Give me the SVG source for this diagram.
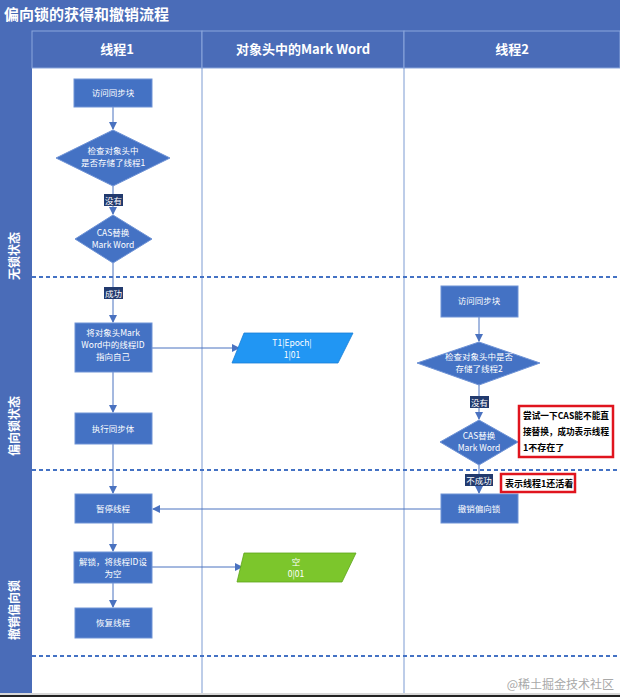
<svg xmlns="http://www.w3.org/2000/svg" width="620" height="697" viewBox="0 0 620 697">
<defs>
<style>
.t{font-family:"Noto Sans CJK SC","Liberation Sans",sans-serif}
.nodeText{font-size:8.5px;fill:#fff;text-anchor:middle}
.hdr{font-size:13px;font-weight:bold;fill:#fff;text-anchor:middle}
.lane{font-size:12px;font-weight:bold;fill:#fff;text-anchor:middle}
.box{fill:#4472c4;stroke:#6f93d6;stroke-width:1}
.conn{stroke:#4a72c0;stroke-width:1;fill:none}
.dash{stroke:#4472c4;stroke-width:2.2;stroke-dasharray:4 3;fill:none}
.lbl{fill:#223a6e}
.lblText{font-size:8.5px;fill:#fff;text-anchor:middle}
.note{fill:#fff;stroke:#e0141e;stroke-width:2.5}
.noteText{font-size:9px;font-weight:bold;fill:#000}
</style>
<marker id="arr" markerWidth="8" markerHeight="8" refX="7" refY="4" orient="auto" markerUnits="userSpaceOnUse">
<path d="M0,0 L8,4 L0,8 z" fill="#4a72c0"/>
</marker>
</defs>

<!-- background frame -->
<rect x="0" y="0" width="620" height="697" fill="#4a6cb8"/>
<rect x="32" y="68" width="588" height="625" fill="#fff"/>
<rect x="0" y="693" width="620" height="2" fill="#d8d8d8"/>
<rect x="0" y="695" width="620" height="2" fill="#222"/>

<text class="t" x="4" y="20" font-size="15" font-weight="bold" fill="#fff">偏向锁的获得和撤销流程</text>

<!-- header row -->
<g id="header">
<rect x="32" y="31" width="170" height="37" fill="#4a6cb8" stroke="#8aa6dc" stroke-width="1"/>
<rect x="202" y="31" width="202" height="37" fill="#4a6cb8" stroke="#8aa6dc" stroke-width="1"/>
<rect x="404" y="31" width="216" height="37" fill="#4a6cb8" stroke="#8aa6dc" stroke-width="1"/>
<text class="t hdr" x="117" y="54">线程1</text>
<text class="t hdr" x="303" y="54">对象头中的Mark Word</text>
<text class="t hdr" x="512" y="54">线程2</text>
</g>

<!-- lane labels -->
<g id="lanes">
<text class="t lane" transform="translate(19,256) rotate(-90)">无锁状态</text>
<text class="t lane" transform="translate(19,426) rotate(-90)">偏向锁状态</text>
<text class="t lane" transform="translate(19,610) rotate(-90)">撤销偏向锁</text>
<line x1="202" y1="68" x2="202" y2="693" stroke="#7d9bd2" stroke-width="1"/>
<line x1="404" y1="68" x2="404" y2="693" stroke="#7d9bd2" stroke-width="1"/>
<line class="dash" x1="32" y1="277" x2="620" y2="277"/>
<line class="dash" x1="32" y1="470" x2="620" y2="470"/>
<line class="dash" x1="32" y1="656" x2="620" y2="656"/>
</g>

<!-- connectors -->
<g id="connectors">
<line class="conn" x1="113" y1="107" x2="113" y2="129" marker-end="url(#arr)"/>
<line class="conn" x1="113" y1="186" x2="113" y2="214" marker-end="url(#arr)"/>
<line class="conn" x1="113" y1="263" x2="113" y2="322" marker-end="url(#arr)"/>
<line class="conn" x1="113" y1="372" x2="113" y2="412" marker-end="url(#arr)"/>
<line class="conn" x1="113" y1="444" x2="113" y2="493" marker-end="url(#arr)"/>
<line class="conn" x1="113" y1="523" x2="113" y2="551" marker-end="url(#arr)"/>
<line class="conn" x1="113" y1="583" x2="113" y2="607" marker-end="url(#arr)"/>
<line class="conn" x1="152" y1="348" x2="239" y2="348" marker-end="url(#arr)"/>
<line class="conn" x1="152" y1="567" x2="242" y2="567" marker-end="url(#arr)"/>
<line class="conn" x1="479" y1="317" x2="479" y2="341" marker-end="url(#arr)"/>
<line class="conn" x1="479" y1="385" x2="479" y2="419" marker-end="url(#arr)"/>
<line class="conn" x1="479" y1="465" x2="479" y2="493" marker-end="url(#arr)"/>
<line class="conn" x1="441" y1="509" x2="153" y2="509" marker-end="url(#arr)"/>
<rect class="lbl" x="104" y="194" width="19" height="12"/>
<text class="t lblText" x="113.5" y="203.5">没有</text>
<rect class="lbl" x="104" y="287" width="19" height="12"/>
<text class="t lblText" x="113.5" y="296.5">成功</text>
<rect class="lbl" x="470" y="396" width="19" height="12"/>
<text class="t lblText" x="479.5" y="405.5">没有</text>
<rect class="lbl" x="465" y="474" width="28" height="12"/>
<text class="t lblText" x="479" y="483.5">不成功</text>
</g>

<!-- thread 1 nodes -->
<g id="t1_access">
<rect class="box" x="74" y="79" width="78" height="28"/>
<text class="t nodeText" x="113" y="96">访问同步块</text>
</g>
<g id="t1_check">
<polygon class="box" points="113,130 170,158 113,186 56,158"/>
<text class="t nodeText" x="113" y="154">检查对象头中</text>
<text class="t nodeText" x="113" y="166">是否存储了线程1</text>
</g>
<g id="t1_cas">
<polygon class="box" points="113,215 152,239 113,263 75,239"/>
<text class="t nodeText" x="113" y="236">CAS替换</text>
<text class="t nodeText" x="113" y="248">Mark Word</text>
</g>
<g id="t1_set">
<rect class="box" x="75" y="323" width="77" height="49"/>
<text class="t nodeText" x="113" y="336">将对象头Mark</text>
<text class="t nodeText" x="113" y="348">Word中的线程ID</text>
<text class="t nodeText" x="113" y="360">指向自己</text>
</g>
<g id="t1_exec">
<rect class="box" x="75" y="413" width="77" height="31"/>
<text class="t nodeText" x="113" y="432">执行同步体</text>
</g>
<g id="t1_pause">
<rect class="box" x="75" y="494" width="77" height="29"/>
<text class="t nodeText" x="113" y="512">暂停线程</text>
</g>
<g id="t1_unlock">
<rect class="box" x="74" y="552" width="78" height="31"/>
<text class="t nodeText" x="113" y="565">解锁，将线程ID设</text>
<text class="t nodeText" x="113" y="577">为空</text>
</g>
<g id="t1_resume">
<rect class="box" x="75" y="608" width="77" height="30"/>
<text class="t nodeText" x="113" y="626">恢复线程</text>
</g>

<!-- mark word nodes -->
<g id="mw_biased">
<polygon points="244,333 353,333 338,363 232,363" fill="#2196f3" stroke="#1a7fd6" stroke-width="0.8"/>
<text class="t nodeText" x="292" y="346">T1|Epoch|</text>
<text class="t nodeText" x="292" y="358">1|01</text>
</g>
<g id="mw_empty">
<polygon points="244,553 356,553 342,582 237,582" fill="#7cc62c" stroke="#5ea51a" stroke-width="0.8"/>
<text class="t nodeText" x="296" y="565">空</text>
<text class="t nodeText" x="296" y="577">0|01</text>
</g>

<!-- thread 2 nodes -->
<g id="t2_access">
<rect class="box" x="441" y="286" width="77" height="31"/>
<text class="t nodeText" x="479" y="304">访问同步块</text>
</g>
<g id="t2_check">
<polygon class="box" points="479,342 540,363 479,385 417,363"/>
<text class="t nodeText" x="479" y="360">检查对象头中是否</text>
<text class="t nodeText" x="479" y="372">存储了线程2</text>
</g>
<g id="t2_cas">
<polygon class="box" points="479,420 518,442 479,465 440,442"/>
<text class="t nodeText" x="479" y="439">CAS替换</text>
<text class="t nodeText" x="479" y="451">Mark Word</text>
</g>
<g id="t2_revoke">
<rect class="box" x="441" y="494" width="77" height="29"/>
<text class="t nodeText" x="479" y="512">撤销偏向锁</text>
</g>

<!-- notes -->
<g id="note1">
<rect class="note" x="519" y="406" width="94" height="51"/>
<text class="t noteText" x="523" y="419" textLength="86" lengthAdjust="spacingAndGlyphs">尝试一下CAS能不能直</text>
<text class="t noteText" x="523" y="435" textLength="86" lengthAdjust="spacingAndGlyphs">接替换，成功表示线程</text>
<text class="t noteText" x="523" y="451">1不存在了</text>
</g>
<g id="note2">
<rect class="note" x="501" y="474" width="74" height="18"/>
<text class="t noteText" x="505" y="487">表示线程1还活着</text>
</g>

<text class="t" x="614" y="689" font-size="12" fill="#a8a8a8" text-anchor="end">@稀土掘金技术社区</text>
</svg>
